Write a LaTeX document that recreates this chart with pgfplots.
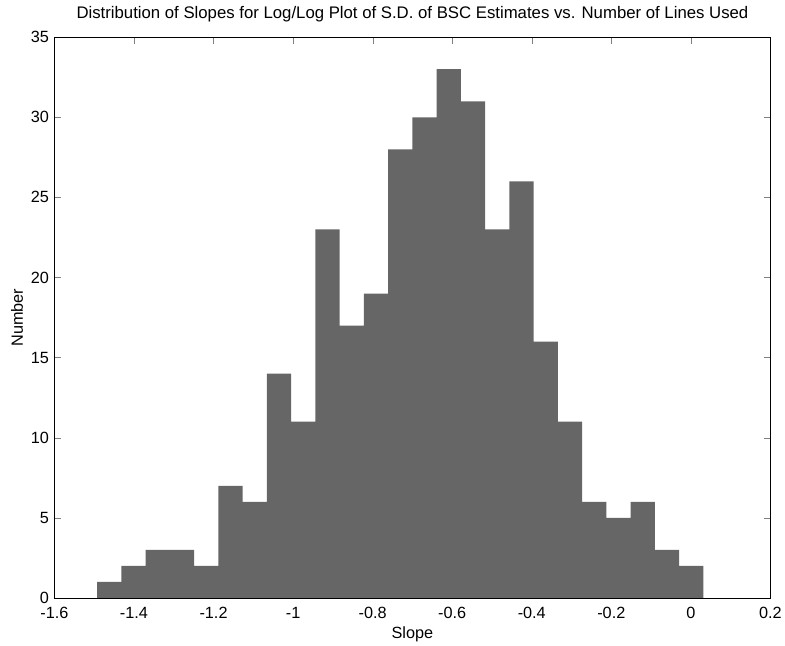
\documentclass[border=0pt]{standalone}
\usepackage{fontspec}
\setmainfont{Liberation Sans}
\usepackage{pgfplots}
\pgfplotsset{compat=1.18}
\begin{document}
\begin{tikzpicture}
\begin{axis}[
  scale only axis, width=724bp, height=567bp,
  xmin=-1.6, xmax=0.2, ymin=0, ymax=35,
  xtick={-1.6,-1.4,-1.2,-1,-0.8,-0.6,-0.4,-0.2,0,0.2},
  ytick={0,5,10,15,20,25,30,35},
  tick align=inside, tick pos=both, major tick length=7bp,
  /pgf/number format/assume math mode=true,
  ticklabel style={font=\fontsize{16.5}{19}\selectfont},
  xticklabel style={yshift=-6bp},
  yticklabel style={xshift=-2bp},
  title={Distribution of Slopes for Log/Log Plot of S.D. of BSC Estimates vs. Number of Lines Used},
  title style={font=\fontsize{17}{20}\selectfont, yshift=6bp},
  xlabel={Slope}, ylabel={Number},
  label style={font=\fontsize{16.5}{19}\selectfont},
  xlabel style={yshift=-1bp},
  ylabel style={yshift=1bp},
  axis line style={black, line width=0.8pt},
]
\addplot[ybar interval, fill=black!60, draw=none] coordinates {
(-1.4928,1) (-1.4318,2) (-1.3709,3) (-1.3099,3) (-1.2490,2)
(-1.1880,7) (-1.1270,6) (-1.0661,14) (-1.0051,11) (-0.9442,23)
(-0.8832,17) (-0.8222,19) (-0.7613,28) (-0.7003,30) (-0.6394,33)
(-0.5784,31) (-0.5174,23) (-0.4565,26) (-0.3955,16) (-0.3346,11)
(-0.2736,6) (-0.2126,5) (-0.1517,6) (-0.0907,3) (-0.0298,2)
(0.0312,2)
};
\end{axis}
\path ([xshift=-8bp,yshift=3bp]current bounding box.north west);
\end{tikzpicture}
\end{document}
